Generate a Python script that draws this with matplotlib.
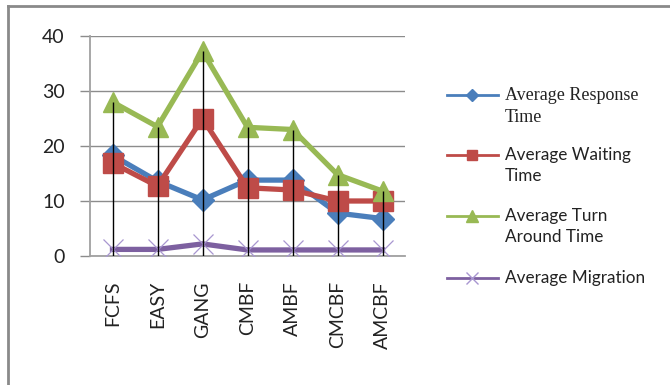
import matplotlib
matplotlib.use('Agg')
import matplotlib.pyplot as plt
from matplotlib.lines import Line2D
import numpy as np

plt.rcParams['font.family'] = ['Lato', 'DejaVu Sans']

# data
categories = ['FCFS', 'EASY', 'GANG', 'CMBF', 'AMBF', 'CMCBF', 'AMCBF']
response = [18.3, 13.6, 10.2, 13.8, 13.8, 7.8, 6.8]
waiting = [16.9, 12.7, 25.0, 12.4, 12.0, 10.0, 10.0]
turnaround = [28.0, 23.5, 37.2, 23.4, 23.0, 14.8, 11.8]
migration = [1.2, 1.2, 2.2, 1.1, 1.1, 1.1, 1.1]
yticks = [0, 10, 20, 30, 40]

fig = plt.figure(figsize=(6.7, 3.85), dpi=100)
W, H = 670.0, 385.0
ax = fig.add_axes([90 / W, 1 - 256 / H, 315 / W, 220 / H])

x = np.arange(len(categories))
series = [
    ('Average Response\nTime', response, '#4A7EBB', 'D', 11),
    ('Average Waiting\nTime', waiting, '#BE4B48', 's', 14),
    ('Average Turn\nAround Time', turnaround, '#98B954', '^', 15),
    ('Average Migration', migration, '#7D60A0', 'x', 15),
]
for lab, vals, col, mk, ms in series:
    if mk == 'x':
        ax.plot(x, vals, color=col, lw=3.8, zorder=3)
        ax.plot(x, vals, ls='none', marker='x', ms=ms, mew=0.9,
                color='#A896D0', zorder=4)
    else:
        ax.plot(x, vals, color=col, lw=3.8, marker=mk, ms=ms, zorder=3)

# drop lines
tops = np.max([response, waiting, turnaround, migration], axis=0)
ax.vlines(x, 0, tops, color='black', lw=1, zorder=5)

ax.set_xlim(-0.5, len(categories) - 0.5)
ax.set_ylim(0, 40)
ax.set_yticks(yticks)
ax.set_yticklabels([str(v) for v in yticks], fontsize=14, color='#222222')
ax.set_xticks(x)
ax.set_xticklabels(categories, rotation=90, fontsize=14, color='#222222', va='top')
ax.tick_params(axis='y', length=7.2, width=1, color='#8c8c8c', pad=11)
ax.tick_params(axis='x', length=0, pad=18)
ax.grid(axis='y', color='#8c8c8c', lw=1)
ax.set_axisbelow(True)
for s in ['top', 'right']:
    ax.spines[s].set_visible(False)
for s in ['left', 'bottom']:
    ax.spines[s].set_color('#a0a0a0')
    ax.spines[s].set_linewidth(1.3)

# legend drawn by hand so the handle sits on the first text line
leg_y = [95, 155, 216, 278]
for (lab, vals, col, mk, ms), yy in zip(series, leg_y):
    fy = 1 - yy / H
    fig.add_artist(Line2D([447 / W, 498 / W], [fy, fy], color=col, lw=2,
                          transform=fig.transFigure))
    mcol = '#A896D0' if mk == 'x' else col
    fig.add_artist(Line2D([472 / W], [fy], ls='none', marker=mk,
                          ms=ms * 0.55, color=mcol, mew=1,
                          transform=fig.transFigure))
    if lab.startswith('Average Response'):
        fam, fs = ['Liberation Serif'], 13
    else:
        fam, fs = ['Lato', 'DejaVu Sans'], 12.3
    fig.text(505 / W, fy + 8 / H, lab, ha='left', va='top', fontsize=fs,
             family=fam, color='#222222', linespacing=1.4)

# outer frame
fig.add_artist(Line2D([8 / W, 1], [1 - 6 / H, 1 - 6 / H], color='#8a8a8a', lw=2,
                      transform=fig.transFigure))
fig.add_artist(Line2D([8 / W, 8 / W], [0, 1 - 6 / H], color='#8a8a8a', lw=2,
                      transform=fig.transFigure))

fig.savefig('out.png', dpi=100)
